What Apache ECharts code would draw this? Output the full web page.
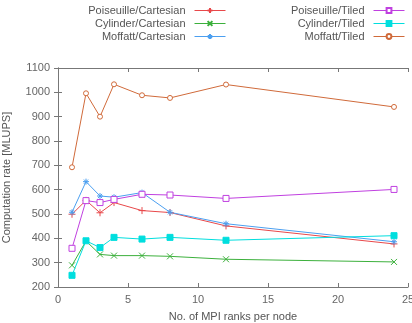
<!DOCTYPE html>
<html><head><meta charset="utf-8">
<script src="https://cdn.jsdelivr.net/npm/echarts@6/dist/echarts.min.js"></script>
<style>html,body{margin:0;padding:0;background:#fff}#c{width:412px;height:323px}</style>
</head><body><div id="c"></div>
<script>
const ranks = [1, 2, 3, 4, 6, 8, 12, 24];
const seriesNames = ['Poiseuille/Cartesian','Cylinder/Cartesian','Moffatt/Cartesian','Poiseuille/Tiled','Cylinder/Tiled','Moffatt/Tiled'];
const poiseuilleCartesian = [499, 556, 505, 547, 514, 506, 451, 377];
const cylinderCartesian = [289, 389, 334, 329, 329, 326, 314, 303];
const moffattCartesian = [507, 633, 574, 569, 588, 507, 460, 386];
const poiseuilleTiled = [359, 555, 547, 560, 581, 578, 564, 601];
const cylinderTiled = [248, 390, 362, 404, 397, 404, 392, 411];
const moffattTiled = [692, 996, 900, 1033, 988, 977, 1032, 940];
const xTicks = [0, 5, 10, 15, 20, 25];
const yTicks = [200, 300, 400, 500, 600, 700, 800, 900, 1000, 1100];

const values = [poiseuilleCartesian, cylinderCartesian, moffattCartesian, poiseuilleTiled, cylinderTiled, moffattTiled];
const colors = ['#e8484a', '#3cb03c', '#4b9ff0', '#c040e0', '#00dede', '#d06a3a'];
const PLUS = 'path://M0,5L10,5M5,0L5,10';
const CROSS = 'path://M0,0L10,10M10,0L0,10';
const STAR = 'path://M0,5L10,5M5,0L5,10M1.5,1.5L8.5,8.5M8.5,1.5L1.5,8.5';
const symbols = [PLUS, CROSS, STAR, 'rect', 'rect', 'circle'];
const symSizes = [7, 6, 6, 6, 6, 5];
const fills = ['none', 'none', 'none', '#fff', '#00dede', '#fff'];

const font = 'Liberation Sans';
const series = seriesNames.map((n, i) => ({
  name: n, type: 'line', data: ranks.map((r, j) => [r, values[i][j]]),
  symbol: symbols[i], symbolSize: symSizes[i], showAllSymbol: true,
  lineStyle: {color: colors[i], width: 1},
  itemStyle: {color: fills[i], borderColor: colors[i], borderWidth: 1},
  emphasis: {disabled: true}, animation: false
}));

const legendPos = [
  {right: 186, top: 5}, {right: 186, top: 18}, {right: 186, top: 31},
  {right: 7, top: 5}, {right: 7, top: 18}, {right: 7, top: 31}
];
const legends = seriesNames.map((n, i) => ({
  data: [n], orient: 'vertical', align: 'right', right: legendPos[i].right, top: legendPos[i].top,
  itemWidth: 31, itemHeight: 6, padding: 0, selectedMode: false,
  lineStyle: {width: 1}, itemGap: 0,
  textStyle: {fontFamily: font, fontSize: 11, color: '#555', padding: [0, 4, 0, 0]}
}));

const axisLine = {show: true, lineStyle: {color: '#777', width: 1}};
const tick = {show: true, inside: true, length: 4, lineStyle: {color: '#777'}};
const chart = echarts.init(document.getElementById('c'), null, {renderer: 'canvas'});
chart.setOption({
  animation: false,
  legend: legends,
  grid: {left: 58, right: 4, top: 68, bottom: 36, containLabel: false, outerBoundsMode: 'none'},
  xAxis: [
    {type: 'value', min: xTicks[0], max: xTicks[xTicks.length-1], interval: 5, position: 'bottom',
     name: 'No. of MPI ranks per node', nameLocation: 'middle', nameGap: 24,
     nameTextStyle: {fontFamily: font, fontSize: 11, color: '#555'},
     axisLine, axisTick: tick, splitLine: {show: false},
     axisLabel: {fontFamily: font, fontSize: 11, color: '#666', margin: 7}},
    {type: 'value', min: xTicks[0], max: xTicks[xTicks.length-1], interval: 5, position: 'top',
     axisLine, axisTick: tick, splitLine: {show: false}, axisLabel: {show: false}}
  ],
  yAxis: [
    {type: 'value', min: yTicks[0], max: yTicks[yTicks.length-1], interval: 100, position: 'left',
     name: 'Computation rate [MLUPS]', nameLocation: 'middle', nameGap: 46,
     nameTextStyle: {fontFamily: font, fontSize: 11, color: '#555'},
     axisLine, axisTick: tick, splitLine: {show: false},
     axisLabel: {fontFamily: font, fontSize: 11, color: '#666', margin: 8, formatter: v => String(v)}},
    {type: 'value', min: yTicks[0], max: yTicks[yTicks.length-1], interval: 100, position: 'right',
     axisLine, axisTick: tick, splitLine: {show: false}, axisLabel: {show: false}}
  ],
  series
});
</script></body></html>
